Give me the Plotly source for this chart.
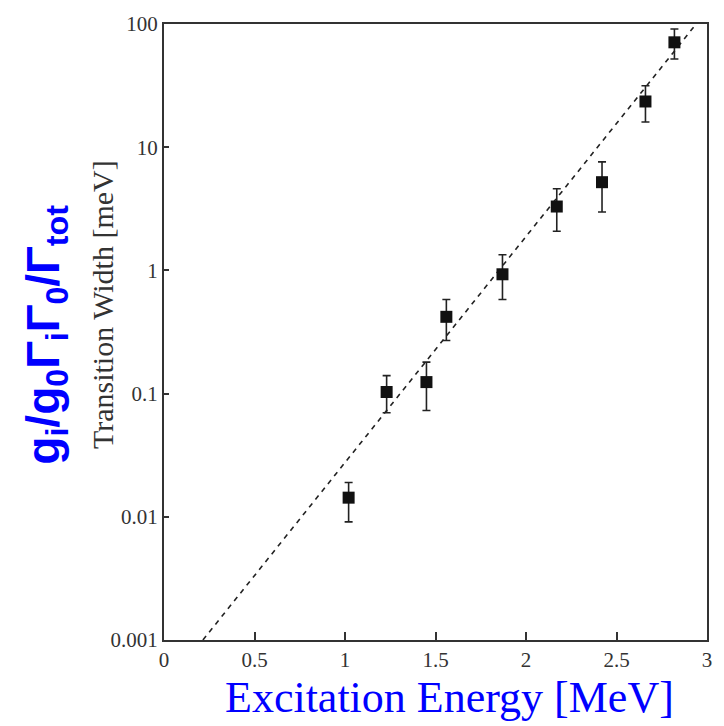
import plotly.graph_objects as go

energy = [1.02, 1.23, 1.45, 1.56, 1.87, 2.17, 2.42, 2.66, 2.82]
width = [0.0143, 0.103, 0.124, 0.42, 0.93, 3.3, 5.2, 23.5, 71]
err_hi = [0.019, 0.14, 0.18, 0.58, 1.34, 4.6, 7.6, 31.5, 91]
err_lo = [0.0091, 0.07, 0.073, 0.27, 0.58, 2.08, 2.98, 16, 52]

fit_x = [0.215, 2.94]
fit_y = [0.001, 100]

x_ticks = [0, 0.5, 1, 1.5, 2, 2.5, 3]
x_tick_text = ["0", "0.5", "1", "1.5", "2", "2.5", "3"]
y_ticks = [0.001, 0.01, 0.1, 1, 10, 100]
y_tick_text = ["0.001", "0.01", "0.1", "1", "10", "100"]

plus = [h - v for h, v in zip(err_hi, width)]
minus = [v - l for v, l in zip(width, err_lo)]

fig = go.Figure()
fig.add_trace(go.Scatter(
    x=fit_x, y=fit_y, mode="lines",
    line=dict(color="#222", width=1.6, dash="5px,5px"),
    showlegend=False, hoverinfo="skip"))
fig.add_trace(go.Scatter(
    x=energy, y=width, mode="markers",
    marker=dict(symbol="square", size=12, color="#111"),
    error_y=dict(type="data", symmetric=False, array=plus, arrayminus=minus,
                 color="#222", thickness=1.6, width=4),
    showlegend=False))

axis_font = dict(family="Liberation Serif, serif", size=21, color="#333")
fig.update_layout(
    width=724, height=726,
    margin=dict(l=164, r=15, t=24, b=86),
    paper_bgcolor="white", plot_bgcolor="white",
    xaxis=dict(range=[0, 3], tickvals=x_ticks, ticktext=x_tick_text,
               showline=True, linecolor="#333", linewidth=2, mirror=True,
               ticks="inside", ticklen=8, tickcolor="#333", tickwidth=1.5,
               showgrid=False, zeroline=False, tickfont=axis_font),
    yaxis=dict(type="log", range=[-3, 2], tickvals=y_ticks, ticktext=y_tick_text,
               showline=True, linecolor="#333", linewidth=2, mirror=True,
               ticks="inside", ticklen=5, tickcolor="#333", tickwidth=1.5,
               showgrid=False, zeroline=False, tickfont=axis_font),
    annotations=[
        dict(text="Transition Width [meV]", xref="paper", yref="paper",
             x=-0.112, y=0.544, xanchor="center", yanchor="middle",
             textangle=-90, showarrow=False,
             font=dict(family="Liberation Serif, serif", size=30, color="#333")),
        dict(text="<b>g<sub>i</sub>/g<sub>0</sub>Γ<sub>i</sub>Γ<sub>0</sub>/Γ<sub>tot</sub></b>",
             xref="paper", yref="paper",
             x=-0.218, y=0.495, xanchor="center", yanchor="middle",
             textangle=-90, showarrow=False,
             font=dict(family="Liberation Sans, Arial, sans-serif", size=46, color="#0000ff")),
        dict(text="Excitation Energy [MeV]", xref="paper", yref="paper",
             x=0.526, y=-0.05, xanchor="center", yanchor="top", showarrow=False,
             font=dict(family="Liberation Serif, serif", size=44, color="#0000ff")),
    ],
)

fig.write_html("out.html", config={"displayModeBar": False},
               post_script="document.body.style.margin='0';document.body.style.padding='0';")
